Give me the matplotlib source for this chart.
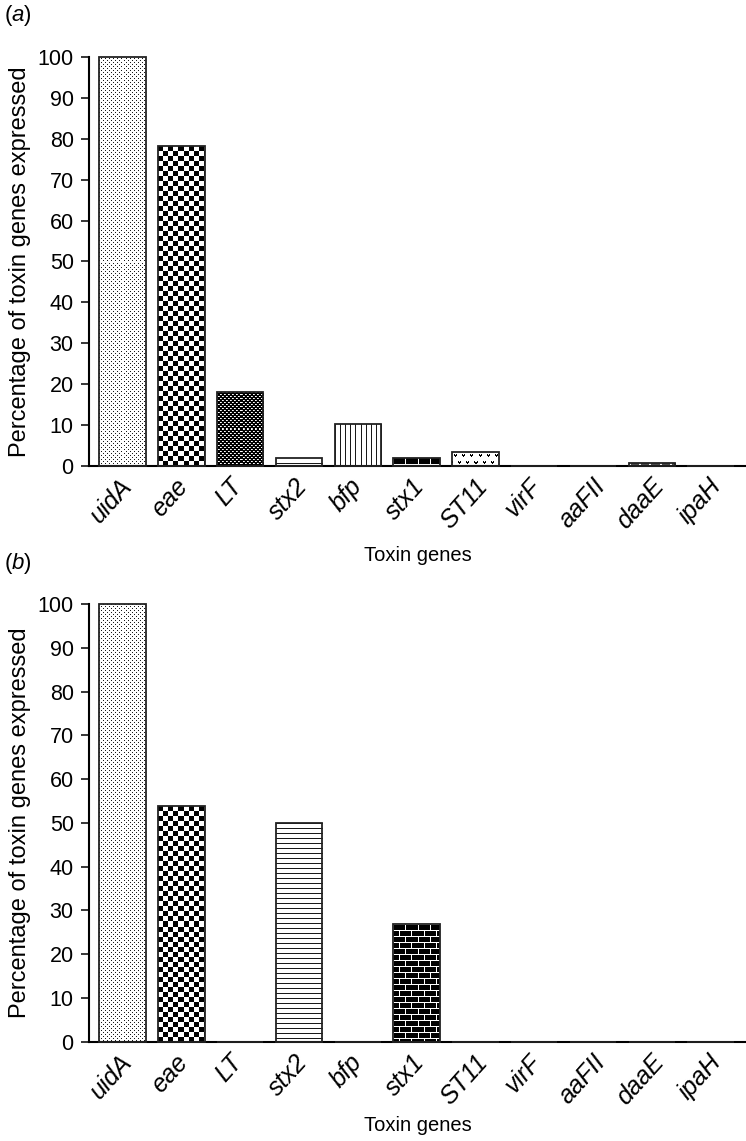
import matplotlib
matplotlib.use('Agg')
import matplotlib.pyplot as plt
import matplotlib.transforms as mtransforms
import numpy as np

plt.rcParams['font.family'] = ['Liberation Sans', 'DejaVu Sans']
plt.rcParams['mathtext.fontset'] = 'custom'
plt.rcParams['mathtext.it'] = 'Liberation Sans:italic'
plt.rcParams['mathtext.rm'] = 'Liberation Sans'

genes = ['uidA', 'eae', 'LT', 'stx2', 'bfp', 'stx1', 'ST11', 'virF', 'aaFII', 'daaE', 'ipaH']
pct_a = [100, 78.2, 18.2, 2.0, 10.2, 2.0, 3.4, 0, 0, 0.7, 0]
pct_b = [100, 53.8, 0, 50.0, 0, 26.9, 0, 0, 0, 0, 0]


# fill textures, built in pixels (0 = black, 1 = white)
def dots(h, w):
    i, j = np.mgrid[0:h, 0:w]
    a = np.ones((h, w))
    a[((i % 4 == 0) & (j % 4 == 0)) | ((i % 4 == 2) & (j % 4 == 2))] = 0.1
    return a

def checker(h, w, s):
    i, j = np.mgrid[0:h, 0:w]
    return ((i // s + j // s) % 2).astype(float)

def hlines(h, w):
    i, j = np.mgrid[0:h, 0:w]
    a = np.ones((h, w))
    a[i % 5 == 0] = 0.1
    return a

def vlines(h, w):
    i, j = np.mgrid[0:h, 0:w]
    a = np.ones((h, w))
    a[j % 5 == 0] = 0.1
    return a

def bricks(h, w):
    i, j = np.mgrid[0:h, 0:w]
    a = np.zeros((h, w))
    a[i % 6 == 0] = 1
    row = i // 6
    a[(j + (row % 2) * 6) % 12 == 0] = 1
    return a

def vees(h, w):
    i, j = np.mgrid[0:h, 0:w]
    r = i % 7
    row = i // 7
    c = (j + (row % 2) * 4) % 8
    a = np.ones((h, w))
    m = ((r == 2) & ((c == 2) | (c == 4))) | ((r == 3) & (c >= 2) & (c <= 4)) | ((r == 4) & (c == 3))
    a[m] = 0
    return a

def dashes(h, w):
    i, j = np.mgrid[0:h, 0:w]
    a = np.full((h, w), 0.3)
    a[(j % 10) < 2] = 1
    return a

def fine_checker(h, w):
    i, j = np.mgrid[0:h, 0:w]
    a = np.zeros((h, w))
    a[((i % 4 == 1) & (j % 4 == 1)) | ((i % 4 == 3) & (j % 4 == 3))] = 1
    a[((i % 4 == 1) & (j % 4 == 2)) | ((i % 4 == 3) & (j % 4 == 0))] = 0.8
    return a

fills = {
    'uidA': dots,
    'eae': lambda h, w: checker(h, w, 5),
    'LT': fine_checker,
    'stx2': hlines,
    'bfp': vlines,
    'stx1': bricks,
    'ST11': vees,
    'daaE': dashes,
}

fig = plt.figure(figsize=(7.46, 11.41), dpi=100)
ax_a = fig.add_axes([0.1193, 0.5916, 0.8807, 0.3585])
ax_b = fig.add_axes([0.1193, 0.0870, 0.8807, 0.3836])

x = np.arange(len(genes))

def panel(ax, vals, xlab_y):
    ax.set_xlim(-0.57, 10.6)
    ax.set_ylim(0, 100)
    bars = ax.bar(x, vals, width=0.79, facecolor='none', edgecolor='#222222',
                  linewidth=1.3, zorder=3, clip_on=False)
    for g, b in zip(genes, bars):
        if b.get_height() <= 0 or g not in fills:
            continue
        x0, y0 = b.get_x(), b.get_y()
        x1, y1 = x0 + b.get_width(), y0 + b.get_height()
        p0 = ax.transData.transform((x0, y0))
        p1 = ax.transData.transform((x1, y1))
        w = max(1, int(round(p1[0] - p0[0])))
        h = max(1, int(round(p1[1] - p0[1])))
        im = ax.imshow(fills[g](h, w), cmap='gray', vmin=0, vmax=1,
                       extent=[x0, x1, y0, y1], interpolation='nearest',
                       aspect='auto', zorder=2)
        im.set_clip_path(b)
    ax.set_xlim(-0.57, 10.6)
    ax.set_ylim(0, 100)

    for s in ['top', 'right']:
        ax.spines[s].set_visible(False)
    for s in ['left', 'bottom']:
        ax.spines[s].set_linewidth(1.5)
    ax.set_yticks(range(0, 101, 10))
    ax.tick_params(axis='y', direction='out', length=6, width=1.1, pad=5, labelsize=15.5)
    ax.set_xticks(x)
    ax.set_xticklabels(genes, rotation=48, ha='center', fontstyle='italic', fontsize=18)
    ax.tick_params(axis='x', length=0, pad=6)
    shift = mtransforms.ScaledTranslation(-8 / 72, 0, fig.dpi_scale_trans)
    for lab in ax.get_xticklabels():
        lab.set_transform(lab.get_transform() + shift)

    ax.set_ylabel('Percentage of toxin genes expressed', fontsize=17)
    ax.yaxis.set_label_coords(-0.088, 0.5)
    ax.set_xlabel('Toxin genes', fontsize=14.5)
    ax.xaxis.set_label_coords(0.5, xlab_y)

panel(ax_a, pct_a, -0.195)
panel(ax_b, pct_b, -0.17)

fig.text(0.005, 1 - 16 / 1141, r'($\mathit{a}$)', fontsize=16, va='center')
fig.text(0.005, 1 - 564 / 1141, r'($\mathit{b}$)', fontsize=16, va='center')

plt.savefig('out.png', dpi=100)
